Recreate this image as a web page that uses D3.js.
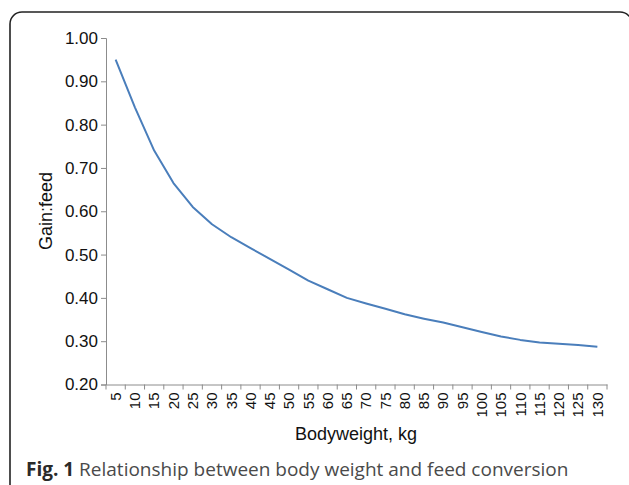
<!DOCTYPE html>
<html>
<head>
<meta charset="utf-8">
<script src="https://cdn.jsdelivr.net/npm/d3@7"></script>
<style>
  body { margin: 0; background: #fff; }
  svg { display: block; }
  .axis text { font-family: "Liberation Sans", Arial, sans-serif; fill: #111; }
  .y-axis text { font-size: 17px; }
  .x-axis text { font-size: 15px; }
  .axis path, .axis line { stroke: #8c8c8c; }
  .axis-label { font-family: "Liberation Sans", Arial, sans-serif; font-size: 18px; fill: #111; }
  .caption { font-family: "Open Sans", sans-serif; font-size: 19px; fill: #4a4a4a; }
</style>
</head>
<body>
<div id="chart"></div>
<script>
// Gain:feed ratio by bodyweight (kg)
const bodyweights = [5, 10, 15, 20, 25, 30, 35, 40, 45, 50, 55, 60, 65, 70, 75, 80, 85, 90, 95, 100, 105, 110, 115, 120, 125, 130];
const gainFeed = [0.95, 0.84, 0.74, 0.665, 0.61, 0.57, 0.54, 0.515, 0.49, 0.465, 0.44, 0.42, 0.40, 0.387, 0.375, 0.362, 0.352, 0.343, 0.332, 0.321, 0.311, 0.303, 0.297, 0.294, 0.291, 0.287];
const yTicks = [0.20, 0.30, 0.40, 0.50, 0.60, 0.70, 0.80, 0.90, 1.00];

const W = 629, H = 485;
const margin = {top: 38, right: 22, bottom: 100, left: 106};
const height = H - margin.top - margin.bottom;

const svg = d3.select("#chart")
    .append("svg")
    .attr("width", W)
    .attr("height", H);

// figure frame
svg.append("rect")
    .attr("x", 10)
    .attr("y", 12)
    .attr("width", 622)
    .attr("height", 520)
    .attr("rx", 12)
    .attr("fill", "none")
    .attr("stroke", "#222")
    .attr("stroke-width", 1.6);

const g = svg.append("g")
    .attr("transform", `translate(${margin.left},${margin.top})`);

const x = d3.scaleBand()
    .domain(bodyweights)
    .range([0, 501]);

const y = d3.scaleLinear()
    .domain([0.2, 1.0])
    .range([height - 0.5, 0]);

// y axis
g.append("g")
    .attr("class", "axis y-axis")
    .call(d3.axisLeft(y).tickValues(yTicks).tickFormat(d3.format(".2f")).tickSize(5).tickPadding(3));

// x axis: ticks at category boundaries
const xAxis = g.append("g")
    .attr("class", "axis x-axis")
    .attr("transform", `translate(0,${height - 0.5})`)
    .call(d3.axisBottom(x).tickSize(0).tickPadding(0));

xAxis.selectAll(".tick text")
    .attr("transform", "rotate(-90)")
    .attr("text-anchor", "end")
    .attr("x", -8)
    .attr("y", 0)
    .attr("dy", "0.35em");

xAxis.selectAll(".boundary")
    .data(bodyweights.concat([null]))
    .enter().append("line")
    .attr("class", "boundary")
    .attr("x1", (d, i) => i * x.step())
    .attr("x2", (d, i) => i * x.step())
    .attr("y1", 0)
    .attr("y2", 5);

// the line
const line = d3.line()
    .x((d, i) => x(bodyweights[i]) + x.bandwidth() / 2)
    .y(d => y(d));

g.append("path")
    .datum(gainFeed)
    .attr("fill", "none")
    .attr("stroke", "#4a7ebb")
    .attr("stroke-width", 2)
    .attr("stroke-linejoin", "round")
    .attr("d", line);

// axis titles
svg.append("text")
    .attr("class", "axis-label")
    .attr("text-anchor", "middle")
    .attr("x", 356)
    .attr("y", 440)
    .text("Bodyweight, kg");

svg.append("text")
    .attr("class", "axis-label")
    .attr("text-anchor", "middle")
    .attr("transform", "rotate(-90)")
    .attr("x", -211)
    .attr("y", 52)
    .text("Gain:feed");

// caption
const cap = svg.append("text")
    .attr("class", "caption")
    .attr("x", 26)
    .attr("y", 476);
cap.append("tspan")
    .style("font-weight", "bold")
    .style("fill", "#2a2a2a")
    .text("Fig. 1");
cap.append("tspan")
    .text(" Relationship between body weight and feed conversion");
</script>
</body>
</html>
